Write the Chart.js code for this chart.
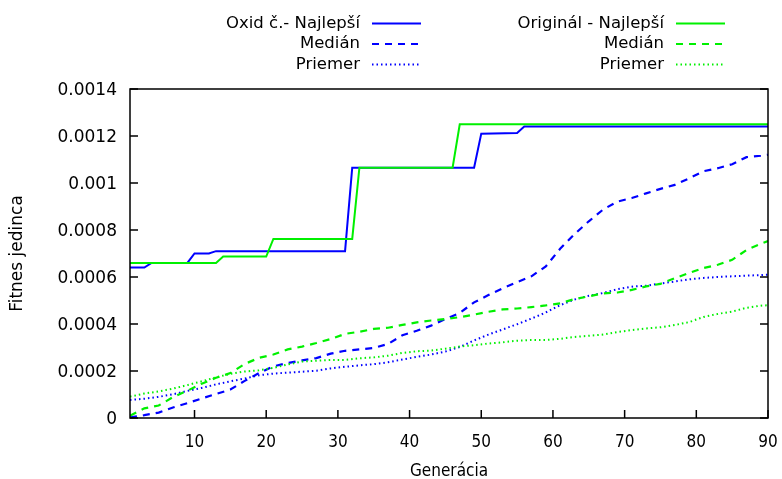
<!DOCTYPE html>
<html>
<head>
<meta charset="utf-8">
<script src="https://cdn.jsdelivr.net/npm/chart.js@4.4.1/dist/chart.umd.min.js"></script>
<style>
  html, body { margin: 0; padding: 0; background: #fff; }
</style>
</head>
<body>
<canvas id="chart" width="782" height="479"></canvas>
<script>
// generations where the medians / means were sampled
const sampleGens = [1, 3, 5, 7, 9, 11, 13, 15, 17, 19, 21, 23, 25, 27, 29, 31, 33, 35, 37, 39, 41, 43, 45,
  47, 49, 51, 53, 55, 57, 59, 61, 63, 65, 67, 69, 71, 73, 75, 77, 79, 81, 83, 85, 87, 89, 90];

// best individual: step changes only, so keep just the breakpoints
const oxidBestGens = [1, 3, 4, 9, 10, 12, 13, 31, 32, 49, 50, 55, 56, 90];
const oxidBest = [0.00064, 0.00064, 0.00066, 0.00066, 0.0007, 0.0007, 0.00071, 0.00071,
  0.001065, 0.001065, 0.00121, 0.001213, 0.00124, 0.00124];
const origBestGens = [1, 13, 14, 20, 21, 32, 33, 46, 47, 90];
const origBest = [0.00066, 0.00066, 0.000687, 0.000687, 0.000762, 0.000762, 0.001065, 0.001065, 0.00125, 0.00125];

const oxidMedian = [0.000003, 0.000012, 0.000023, 0.000045, 0.000063, 0.000083, 0.000102, 0.000121,
  0.000158, 0.000191, 0.00022, 0.000234, 0.000245, 0.000255, 0.000274, 0.000286, 0.000292, 0.000298,
  0.000315, 0.000352, 0.000371, 0.000393, 0.000421, 0.000447, 0.000492, 0.000523, 0.000552, 0.000578,
  0.000603, 0.000645, 0.00072, 0.000782, 0.000837, 0.000887, 0.000921, 0.000936, 0.000956, 0.000975,
  0.000992, 0.00102, 0.00105, 0.001063, 0.00108, 0.00111, 0.001116, 0.00112];
const oxidMean = [0.000077, 0.000082, 0.00009, 0.000101, 0.000115, 0.000128, 0.000143, 0.000156,
  0.000168, 0.000182, 0.000189, 0.000193, 0.000197, 0.000201, 0.000211, 0.000218, 0.000224, 0.000229,
  0.000237, 0.000249, 0.00026, 0.00027, 0.000283, 0.000302, 0.00033, 0.000355, 0.000377, 0.000399,
  0.000423, 0.000449, 0.00048, 0.000504, 0.00052, 0.000532, 0.000548, 0.000559, 0.000563, 0.000572,
  0.000581, 0.00059, 0.000596, 0.0006, 0.000603, 0.000606, 0.000608, 0.00061];
const origMedian = [0.00001, 0.000041, 0.000053, 0.000089, 0.000116, 0.000146, 0.000171, 0.000191,
  0.00023, 0.000256, 0.00027, 0.000292, 0.000304, 0.000319, 0.000336, 0.000358, 0.000367, 0.000379,
  0.000384, 0.000396, 0.000407, 0.000415, 0.000421, 0.000429, 0.00044, 0.000452, 0.000462, 0.000466,
  0.000472, 0.000479, 0.000488, 0.000506, 0.000518, 0.00053, 0.000534, 0.000545, 0.00056, 0.000571,
  0.000595, 0.000617, 0.000638, 0.000652, 0.000673, 0.000715, 0.000741, 0.000753];
const origMean = [0.000091, 0.000104, 0.000113, 0.000125, 0.00014, 0.000156, 0.000173, 0.000188,
  0.000198, 0.000203, 0.000213, 0.000228, 0.00024, 0.000244, 0.000247, 0.000247, 0.000254, 0.000258,
  0.000265, 0.000277, 0.000284, 0.000287, 0.000295, 0.000304, 0.00031, 0.000317, 0.000322, 0.000329,
  0.000332, 0.000332, 0.000337, 0.000345, 0.00035, 0.000355, 0.000366, 0.000374, 0.000381, 0.000386,
  0.000396, 0.000408, 0.00043, 0.000443, 0.000453, 0.000469, 0.000478, 0.00048];

const xTicks = [10, 20, 30, 40, 50, 60, 70, 80, 90];
const yTicks = [0, 0.0002, 0.0004, 0.0006, 0.0008, 0.001, 0.0012, 0.0014];

const BLUE = '#0000ff';
const GREEN = '#00f000';
const DASH = [7, 6];
const DOT = [1.5, 3];

const pts = (xs, ys) => xs.map((g, i) => ({ x: g, y: ys[i] }));

const series = [
  { label: 'Oxid č.- Najlepší', data: pts(oxidBestGens, oxidBest), borderColor: BLUE, borderWidth: 2, borderDash: [] },
  { label: 'Medián', data: pts(sampleGens, oxidMedian), borderColor: BLUE, borderWidth: 2.2, borderDash: DASH },
  { label: 'Priemer', data: pts(sampleGens, oxidMean), borderColor: BLUE, borderWidth: 2, borderDash: DOT },
  { label: 'Originál - Najlepší', data: pts(origBestGens, origBest), borderColor: GREEN, borderWidth: 2, borderDash: [] },
  { label: 'Medián', data: pts(sampleGens, origMedian), borderColor: GREEN, borderWidth: 2.2, borderDash: DASH },
  { label: 'Priemer', data: pts(sampleGens, origMean), borderColor: GREEN, borderWidth: 2, borderDash: DOT },
];

// later series sit on top, like the key order
const datasets = series.map((s, i) => ({
  ...s,
  fill: false,
  pointRadius: 0,
  tension: 0,
  borderCapStyle: 'butt',
  order: series.length - i,
}));

// key in two columns above the plot: text right-aligned, sample line after it
const keyPlugin = {
  id: 'keyBox',
  afterDraw(chart) {
    const ctx = chart.ctx;
    ctx.save();
    ctx.font = '16.5px "DejaVu Sans"';
    ctx.textAlign = 'right';
    ctx.textBaseline = 'middle';
    chart.data.datasets.forEach((ds, i) => {
      const col = Math.floor(i / 3);
      const row = i % 3;
      const tx = [360, 664][col];
      const y = 23.5 + row * 20.5;
      ctx.fillStyle = '#000';
      ctx.fillText(ds.label, tx, y);
      ctx.strokeStyle = ds.borderColor;
      ctx.lineWidth = ds.borderWidth;
      ctx.setLineDash(ds.borderDash);
      ctx.beginPath();
      ctx.moveTo(tx + 12, y);
      ctx.lineTo(tx + 61, y);
      ctx.stroke();
    });
    ctx.restore();
  }
};

// border box with inward tick marks
const framePlugin = {
  id: 'frame',
  afterDatasetsDraw(chart) {
    const { ctx, chartArea: a, scales: { x, y } } = chart;
    ctx.save();
    ctx.strokeStyle = '#000';
    ctx.lineWidth = 1.5;
    ctx.setLineDash([]);
    ctx.strokeRect(a.left, a.top, a.right - a.left, a.bottom - a.top);
    ctx.beginPath();
    y.ticks.forEach(t => {
      const py = y.getPixelForValue(t.value);
      ctx.moveTo(a.left, py); ctx.lineTo(a.left + 8, py);
      ctx.moveTo(a.right, py); ctx.lineTo(a.right - 8, py);
    });
    x.ticks.forEach(t => {
      const px = x.getPixelForValue(t.value);
      ctx.moveTo(px, a.bottom); ctx.lineTo(px, a.bottom - 8);
    });
    ctx.stroke();
    ctx.restore();
  }
};

new Chart(document.getElementById('chart'), {
  type: 'line',
  data: { datasets },
  options: {
    responsive: false,
    animation: false,
    layout: { padding: { left: 0, top: 89, right: 14, bottom: 0 } },
    plugins: { legend: { display: false }, tooltip: { enabled: false } },
    scales: {
      x: {
        type: 'linear',
        min: 1,
        max: 90,
        afterBuildTicks: s => { s.ticks = xTicks.map(v => ({ value: v })); },
        afterFit: s => { s.height = 61; s.paddingLeft = 0; s.paddingRight = 0; },
        grid: { display: false, drawTicks: false },
        border: { display: false },
        ticks: {
          color: '#000',
          padding: 14,
          maxRotation: 0,
          font: { family: '"Liberation Sans Narrow", "DejaVu Sans Condensed", sans-serif', size: 17 }
        },
        title: {
          display: true,
          text: 'Generácia',
          color: '#000',
          padding: { top: 0, bottom: -1 },
          font: { family: '"Liberation Sans Narrow", "DejaVu Sans Condensed", sans-serif', size: 17, lineHeight: 1 }
        }
      },
      y: {
        type: 'linear',
        min: 0,
        max: 0.0014,
        afterBuildTicks: s => { s.ticks = yTicks.map(v => ({ value: v })); },
        afterFit: s => { s.width = 130; s.paddingTop = 0; s.paddingBottom = 0; },
        grid: { display: false, drawTicks: false },
        border: { display: false },
        ticks: {
          color: '#000',
          padding: 13,
          labelOffset: 2,
          font: { family: '"DejaVu Sans"', size: 17 },
          callback: v => String(+v.toFixed(4))
        },
        title: {
          display: true,
          text: 'Fitnes jedinca',
          color: '#000',
          padding: { top: 9.5, bottom: 0 },
          font: { family: '"DejaVu Sans"', size: 17, lineHeight: 1 }
        }
      }
    }
  },
  plugins: [framePlugin, keyPlugin]
});
</script>
</body>
</html>
